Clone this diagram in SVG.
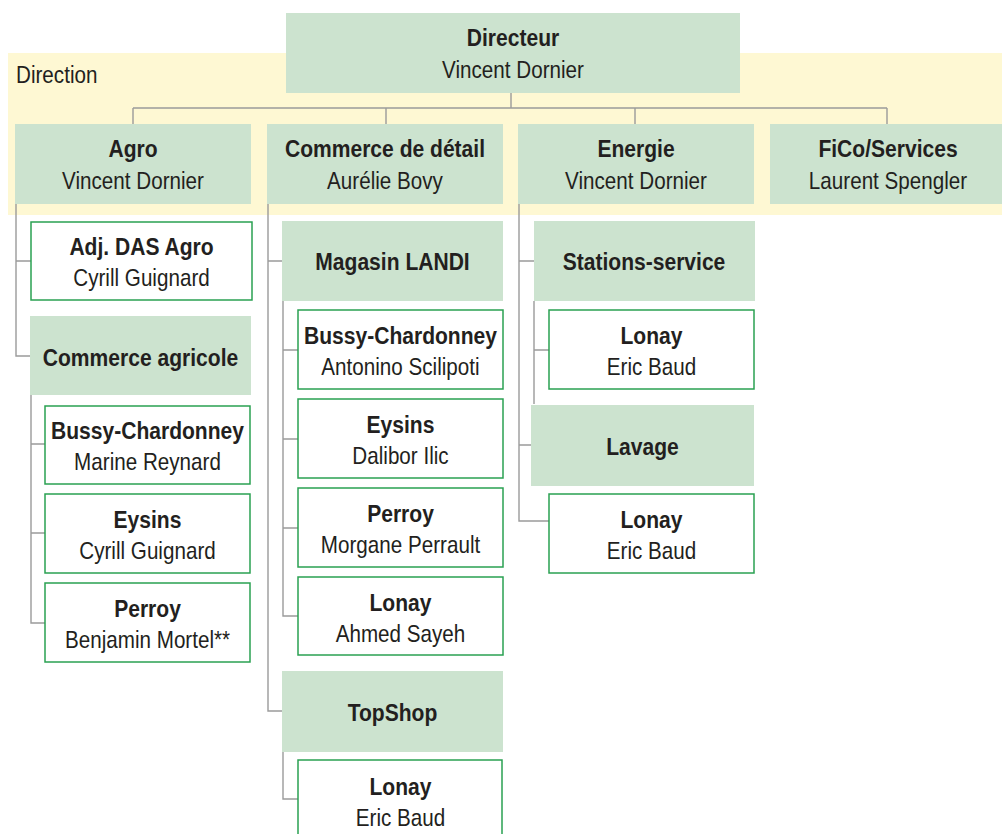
<svg xmlns="http://www.w3.org/2000/svg" width="1002" height="834" viewBox="0 0 1002 834">
<style>
.band{fill:#fef8d3}
.g{fill:#cce3cf}
.w{fill:#ffffff;stroke:#2aa152;stroke-width:1.5}
.c{fill:none;stroke:#9b9b9b;stroke-width:1.4}
text{font-family:"Liberation Sans",Arial,sans-serif;font-size:24px;fill:#231f20;text-anchor:middle}
.b{font-weight:bold;font-size:24.5px}
.l{text-anchor:start}
</style>
<rect class="band" x="8" y="53" width="1000" height="162"/>
<text class="l" transform="matrix(0.86 0 0 1 16 0)" x="0" y="83">Direction</text>
<g id="connectors">
<path class="c" d="M511 93V108M133 108H887M133 108V124M386 108V124M635 108V124M887 108V124"/>
<path class="c" d="M16 204V356H30M16 261H31"/>
<path class="c" d="M31 395V623H45M31 444H45M31 533H45"/>
<path class="c" d="M268 204V711H282M268 261H282"/>
<path class="c" d="M283 301V616H298M283 350H298M283 439H298M283 528H298"/>
<path class="c" d="M283 752V799H298"/>
<path class="c" d="M519 204V521H549M519 261H534M519 445H531"/>
<path class="c" d="M534 301V404M534 350H549"/>
</g>
<g id="directeur"><rect class="g" x="286" y="13" width="454" height="80"/><text class="b" transform="matrix(0.86 0 0 1 513 0)" x="0" y="46">Directeur</text><text transform="matrix(0.86 0 0 1 513 0)" x="0" y="78">Vincent Dornier</text></g>
<g id="agro"><rect class="g" x="15" y="124" width="236" height="80"/><text class="b" transform="matrix(0.86 0 0 1 133 0)" x="0" y="157">Agro</text><text transform="matrix(0.86 0 0 1 133 0)" x="0" y="189">Vincent Dornier</text></g>
<g id="commerce"><rect class="g" x="267" y="124" width="236" height="80"/><text class="b" transform="matrix(0.86 0 0 1 385 0)" x="0" y="157">Commerce de détail</text><text transform="matrix(0.86 0 0 1 385 0)" x="0" y="189">Aurélie Bovy</text></g>
<g id="energie"><rect class="g" x="518" y="124" width="236" height="80"/><text class="b" transform="matrix(0.86 0 0 1 636 0)" x="0" y="157">Energie</text><text transform="matrix(0.86 0 0 1 636 0)" x="0" y="189">Vincent Dornier</text></g>
<g id="fico"><rect class="g" x="770" y="124" width="236" height="80"/><text class="b" transform="matrix(0.86 0 0 1 888 0)" x="0" y="157">FiCo/Services</text><text transform="matrix(0.86 0 0 1 888 0)" x="0" y="189">Laurent Spengler</text></g>
<g id="adj-das-agro"><rect class="w" x="31" y="222" width="221" height="78"/><text class="b" transform="matrix(0.86 0 0 1 141.5 0)" x="0" y="255">Adj. DAS Agro</text><text transform="matrix(0.86 0 0 1 141.5 0)" x="0" y="286">Cyrill Guignard</text></g>
<g id="commerce-agricole"><rect class="g" x="30" y="316" width="221" height="79"/><text class="b" transform="matrix(0.86 0 0 1 140.5 0)" x="0" y="366">Commerce agricole</text></g>
<g id="agri-bussy"><rect class="w" x="45" y="406" width="205" height="78"/><text class="b" transform="matrix(0.86 0 0 1 147.5 0)" x="0" y="439">Bussy-Chardonney</text><text transform="matrix(0.86 0 0 1 147.5 0)" x="0" y="470">Marine Reynard</text></g>
<g id="agri-eysins"><rect class="w" x="45" y="494" width="205" height="79"/><text class="b" transform="matrix(0.86 0 0 1 147.5 0)" x="0" y="528">Eysins</text><text transform="matrix(0.86 0 0 1 147.5 0)" x="0" y="559">Cyrill Guignard</text></g>
<g id="agri-perroy"><rect class="w" x="45" y="583" width="205" height="79"/><text class="b" transform="matrix(0.86 0 0 1 147.5 0)" x="0" y="617">Perroy</text><text transform="matrix(0.86 0 0 1 147.5 0)" x="0" y="648">Benjamin Mortel**</text></g>
<g id="magasin-landi"><rect class="g" x="282" y="221" width="221" height="80"/><text class="b" transform="matrix(0.86 0 0 1 392.5 0)" x="0" y="270">Magasin LANDI</text></g>
<g id="landi-bussy"><rect class="w" x="298" y="310" width="205" height="79"/><text class="b" transform="matrix(0.86 0 0 1 400.5 0)" x="0" y="344">Bussy-Chardonney</text><text transform="matrix(0.86 0 0 1 400.5 0)" x="0" y="375">Antonino Scilipoti</text></g>
<g id="landi-eysins"><rect class="w" x="298" y="399" width="205" height="79"/><text class="b" transform="matrix(0.86 0 0 1 400.5 0)" x="0" y="433">Eysins</text><text transform="matrix(0.86 0 0 1 400.5 0)" x="0" y="464">Dalibor Ilic</text></g>
<g id="landi-perroy"><rect class="w" x="298" y="488" width="205" height="79"/><text class="b" transform="matrix(0.86 0 0 1 400.5 0)" x="0" y="522">Perroy</text><text transform="matrix(0.86 0 0 1 400.5 0)" x="0" y="553">Morgane Perrault</text></g>
<g id="landi-lonay"><rect class="w" x="298" y="577" width="205" height="78"/><text class="b" transform="matrix(0.86 0 0 1 400.5 0)" x="0" y="611">Lonay</text><text transform="matrix(0.86 0 0 1 400.5 0)" x="0" y="642">Ahmed Sayeh</text></g>
<g id="topshop"><rect class="g" x="282" y="671" width="221" height="81"/><text class="b" transform="matrix(0.86 0 0 1 392.5 0)" x="0" y="721">TopShop</text></g>
<g id="topshop-lonay"><rect class="w" x="298" y="760" width="204" height="80"/><text class="b" transform="matrix(0.86 0 0 1 400.5 0)" x="0" y="795">Lonay</text><text transform="matrix(0.86 0 0 1 400.5 0)" x="0" y="826">Eric Baud</text></g>
<g id="stations-service"><rect class="g" x="534" y="221" width="221" height="80"/><text class="b" transform="matrix(0.86 0 0 1 644 0)" x="0" y="270">Stations-service</text></g>
<g id="stations-lonay"><rect class="w" x="549" y="310" width="205" height="79"/><text class="b" transform="matrix(0.86 0 0 1 651.5 0)" x="0" y="344">Lonay</text><text transform="matrix(0.86 0 0 1 651.5 0)" x="0" y="375">Eric Baud</text></g>
<g id="lavage"><rect class="g" x="531" y="405" width="223" height="81"/><text class="b" transform="matrix(0.86 0 0 1 642.5 0)" x="0" y="455">Lavage</text></g>
<g id="lavage-lonay"><rect class="w" x="549" y="494" width="205" height="79"/><text class="b" transform="matrix(0.86 0 0 1 651.5 0)" x="0" y="528">Lonay</text><text transform="matrix(0.86 0 0 1 651.5 0)" x="0" y="559">Eric Baud</text></g>
</svg>
